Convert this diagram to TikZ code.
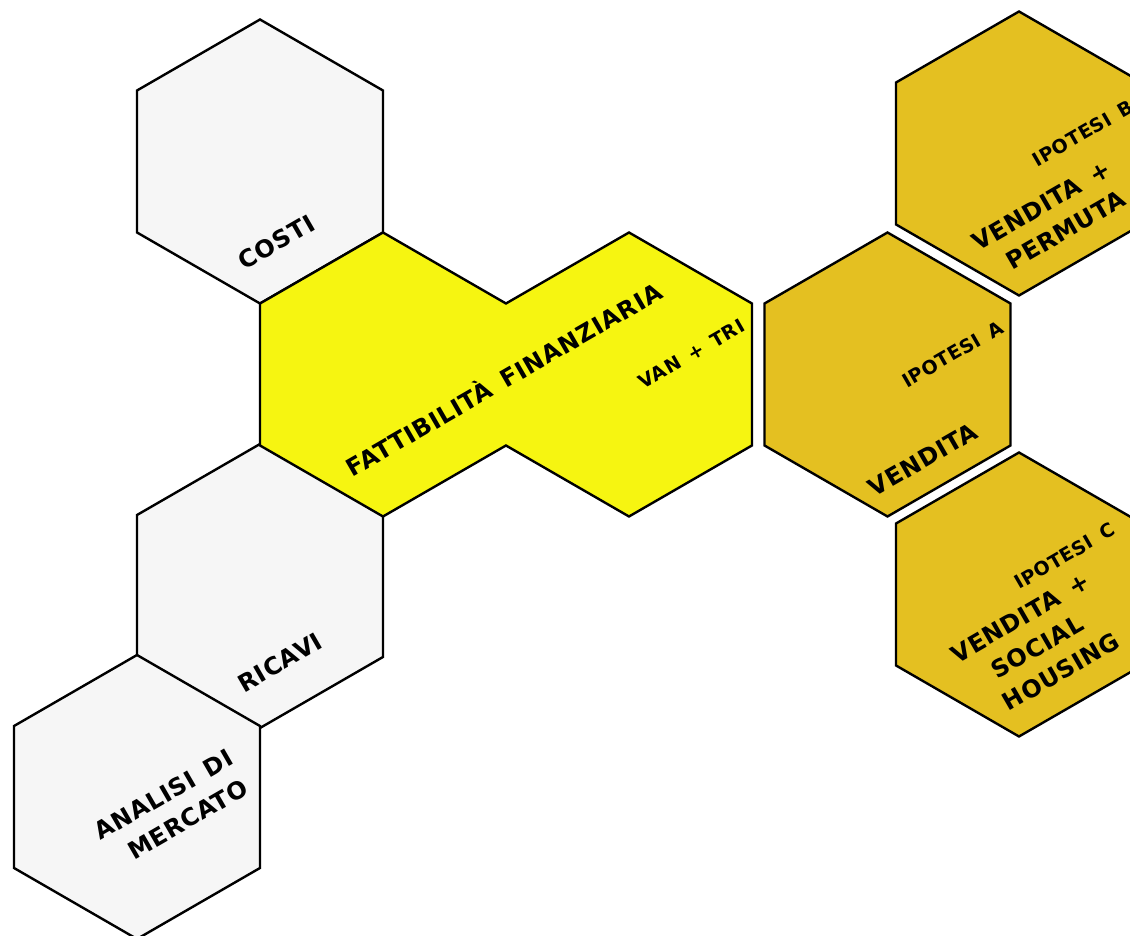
\documentclass[tikz,border=0pt]{standalone}
\usepackage{fontspec}
\setmainfont{DejaVu Sans}
\newfontfamily\etich[LetterSpace=3,WordSpace=1.5]{DejaVu Sans}
\usetikzlibrary{shapes.geometric, calc}

\definecolor{grigio}{HTML}{F6F6F6}
\definecolor{giallo}{HTML}{F6F511}
\definecolor{oro}{HTML}{E4C021}

\begin{document}
\begin{tikzpicture}[x=1pt, y=1pt,
    hexa/.style={regular polygon, regular polygon sides=6, shape border rotate=30,
        minimum size=284pt, inner sep=0pt, line width=2.4pt},
    lab/.style={font=\etich\bfseries\fontsize{24}{33.5}\selectfont,
        rotate=30, align=center, inner sep=0pt},
    sub/.style={font=\etich\bfseries\fontsize{19}{24}\selectfont,
        rotate=30, inner sep=0pt}
]
\useasboundingbox (0,0) rectangle (1130,936);
\clip (0,0) rectangle (1130,936);
\def\r{142}

% esagoni grigi
\node[hexa, draw, fill=grigio] (costi)   at (260,774.5) {};
\node[hexa, draw, fill=grigio] (ricavi)  at (260,350)   {};
\node[hexa, draw, fill=grigio] (analisi) at (137,139)   {};

% doppio esagono giallo
\coordinate (finL) at (383,561.5);
\coordinate (finR) at (629,561.5);
\draw[line width=2.4pt, line join=miter, fill=giallo]
    ($(finL)+(150:\r)$) -- ($(finL)+(90:\r)$) -- ($(finL)+(30:\r)$)
    -- ($(finR)+(90:\r)$) -- ($(finR)+(30:\r)$) -- ($(finR)+(-30:\r)$)
    -- ($(finR)+(-90:\r)$) -- ($(finL)+(-30:\r)$) -- ($(finL)+(-90:\r)$)
    -- ($(finL)+(-150:\r)$) -- cycle;

% ipotesi
\node[hexa, draw, fill=oro] (ipoA) at (887.5,561.5) {};
\node[hexa, draw, fill=oro] (ipoB) at (1019,782.5)  {};
\node[hexa, draw, fill=oro] (ipoC) at (1019,341.5)  {};

% testi
\node[lab] (tcosti)   at (276.5,694) {COSTI};
\node[lab] (tricavi)  at (280,273.5) {RICAVI};
\node[lab] (tanalisi) at (172,127)   {ANALISI DI\\\hspace*{17pt}MERCATO};
\node[lab] (tfin)     at (503,558)   {FATTIBILITÀ FINANZIARIA};
\node[sub] (tvan)     at (691.5,582) {VAN + TRI};

\node[sub] (tipoA) at (952.5,582)  {IPOTESI A};
\node[lab] (tvenA) at (923,476.5)  {VENDITA};
\node[sub] (tipoB) at (1083,803)   {IPOTESI B};
\node[lab] (tvenB) at (1050,716)   {VENDITA +\\\hspace*{17pt}PERMUTA};
\node[sub] (tipoC) at (1064.5,380) {IPOTESI C};
\node[lab] (tvenC) at (1037,289)   {VENDITA +\\SOCIAL\\\hspace*{17pt}HOUSING};

\end{tikzpicture}
\end{document}
